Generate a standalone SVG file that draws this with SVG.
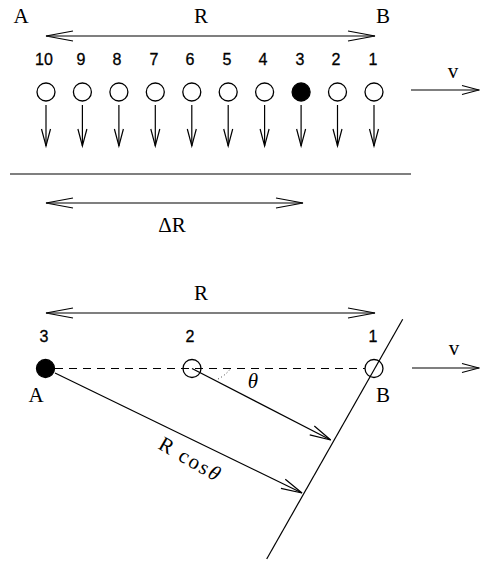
<svg xmlns="http://www.w3.org/2000/svg" width="480" height="565" viewBox="0 0 480 565">
<style>
.ln{stroke:#000;stroke-width:1.2;fill:none}
.lbl{font-family:"Liberation Serif","DejaVu Serif",serif;font-size:21px;fill:#000;text-anchor:middle}
.num{font-family:"Liberation Sans","DejaVu Sans",sans-serif;font-size:16px;fill:#000;stroke:#000;stroke-width:0.3;text-anchor:middle}
.oc{fill:#fff;stroke:#000;stroke-width:1.3}
.fc{fill:#000;stroke:#000;stroke-width:1.3}
</style>
<defs>
<marker id="big" markerUnits="userSpaceOnUse" orient="auto-start-reverse" refX="0" refY="0" markerWidth="30" markerHeight="12" overflow="visible"><path d="M-27,-5 L0,0 L-27,5" fill="none" stroke="#000" stroke-width="1.2"/></marker>
<marker id="sm" markerUnits="userSpaceOnUse" orient="auto-start-reverse" refX="0" refY="0" markerWidth="20" markerHeight="10" overflow="visible"><path d="M-17,-4.5 L0,0 L-17,4.5" fill="none" stroke="#000" stroke-width="1.2"/></marker>
<marker id="md" markerUnits="userSpaceOnUse" orient="auto-start-reverse" refX="0" refY="0" markerWidth="24" markerHeight="12" overflow="visible"><path d="M-21,-5 L0,0 L-21,5" fill="none" stroke="#000" stroke-width="1.2"/></marker>
</defs>

<g id="top-labels">
<text class="lbl" x="21" y="23">A</text>
<text class="lbl" x="201" y="23">R</text>
<text class="lbl" x="383" y="23">B</text>
</g>

<g id="top-nodes">
<g id="n10"><text class="num" x="44" y="65">10</text><circle class="oc" cx="46" cy="92" r="9"/></g>
<g id="n9"><text class="num" x="81" y="65">9</text><circle class="oc" cx="82.4" cy="92" r="9"/></g>
<g id="n8"><text class="num" x="117" y="65">8</text><circle class="oc" cx="118.9" cy="92" r="9"/></g>
<g id="n7"><text class="num" x="154" y="65">7</text><circle class="oc" cx="155.3" cy="92" r="9"/></g>
<g id="n6"><text class="num" x="190" y="65">6</text><circle class="oc" cx="191.8" cy="92" r="9"/></g>
<g id="n5"><text class="num" x="227" y="65">5</text><circle class="oc" cx="228.2" cy="92" r="9"/></g>
<g id="n4"><text class="num" x="263" y="65">4</text><circle class="oc" cx="264.6" cy="92" r="9"/></g>
<g id="n3"><text class="num" x="300" y="65">3</text><circle class="fc" cx="301.1" cy="92" r="9"/></g>
<g id="n2"><text class="num" x="336" y="65">2</text><circle class="oc" cx="337.5" cy="92" r="9"/></g>
<g id="n1"><text class="num" x="373" y="65">1</text><circle class="oc" cx="374" cy="92" r="9"/></g>
<text class="lbl" x="453" y="78">v</text>
<text class="lbl" x="172" y="232">ΔR</text>
</g>

<g id="top-connectors">
<line class="ln" x1="46" y1="36" x2="375" y2="36" marker-start="url(#big)" marker-end="url(#big)"/>
<line class="ln" x1="46" y1="105" x2="46" y2="146" marker-end="url(#sm)"/>
<line class="ln" x1="82.4" y1="105" x2="82.4" y2="146" marker-end="url(#sm)"/>
<line class="ln" x1="118.9" y1="105" x2="118.9" y2="146" marker-end="url(#sm)"/>
<line class="ln" x1="155.3" y1="105" x2="155.3" y2="146" marker-end="url(#sm)"/>
<line class="ln" x1="191.8" y1="105" x2="191.8" y2="146" marker-end="url(#sm)"/>
<line class="ln" x1="228.2" y1="105" x2="228.2" y2="146" marker-end="url(#sm)"/>
<line class="ln" x1="264.6" y1="105" x2="264.6" y2="146" marker-end="url(#sm)"/>
<line class="ln" x1="301.1" y1="105" x2="301.1" y2="146" marker-end="url(#sm)"/>
<line class="ln" x1="337.5" y1="105" x2="337.5" y2="146" marker-end="url(#sm)"/>
<line class="ln" x1="374" y1="105" x2="374" y2="146" marker-end="url(#sm)"/>
<line class="ln" x1="411" y1="90" x2="479" y2="90" marker-end="url(#sm)"/>
<line class="ln" x1="10" y1="174" x2="411" y2="174"/>
<line class="ln" x1="46" y1="203" x2="303" y2="203" marker-start="url(#big)" marker-end="url(#big)"/>
</g>

<g id="bottom-labels">
<text class="lbl" x="201" y="300">R</text>
<text class="lbl" x="36" y="402">A</text>
<text class="lbl" x="383" y="402">B</text>
<text class="lbl" x="454" y="355">v</text>
<text class="lbl" x="253" y="388" font-style="italic" font-size="22">θ</text>
<text class="lbl" transform="translate(157,448) rotate(30)" x="0" y="0" font-size="22" style="text-anchor:start">R<tspan dx="9" letter-spacing="2">cos</tspan><tspan font-style="italic">θ</tspan></text>
</g>

<g id="bottom-connectors">
<line class="ln" x1="46" y1="313" x2="375" y2="313" marker-start="url(#big)" marker-end="url(#big)"/>
<line class="ln" x1="55" y1="368.5" x2="365" y2="368.5" stroke-dasharray="8,6"/>
<path d="M218,379 Q226,375 231,368" fill="none" stroke="#000" stroke-width="0.8" stroke-dasharray="1,2.5"/>
<line class="ln" x1="402.7" y1="319.3" x2="266.7" y2="559"/>
<line class="ln" x1="192" y1="368.5" x2="330.7" y2="440" marker-end="url(#md)"/>
<line class="ln" x1="55" y1="373" x2="302" y2="493" marker-end="url(#md)"/>
<line class="ln" x1="412" y1="368" x2="479" y2="368" marker-end="url(#sm)"/>
</g>

<g id="bottom-nodes">
<g id="b3"><text class="num" x="44" y="342">3</text><circle class="fc" cx="45.5" cy="368.5" r="9"/></g>
<g id="b2"><text class="num" x="190" y="342">2</text><circle class="oc" cx="192" cy="368.5" r="9" style="fill:none"/></g>
<g id="b1"><text class="num" x="373" y="342">1</text><circle class="oc" cx="374" cy="368.5" r="9" style="fill:none"/></g>
</g>
</svg>
